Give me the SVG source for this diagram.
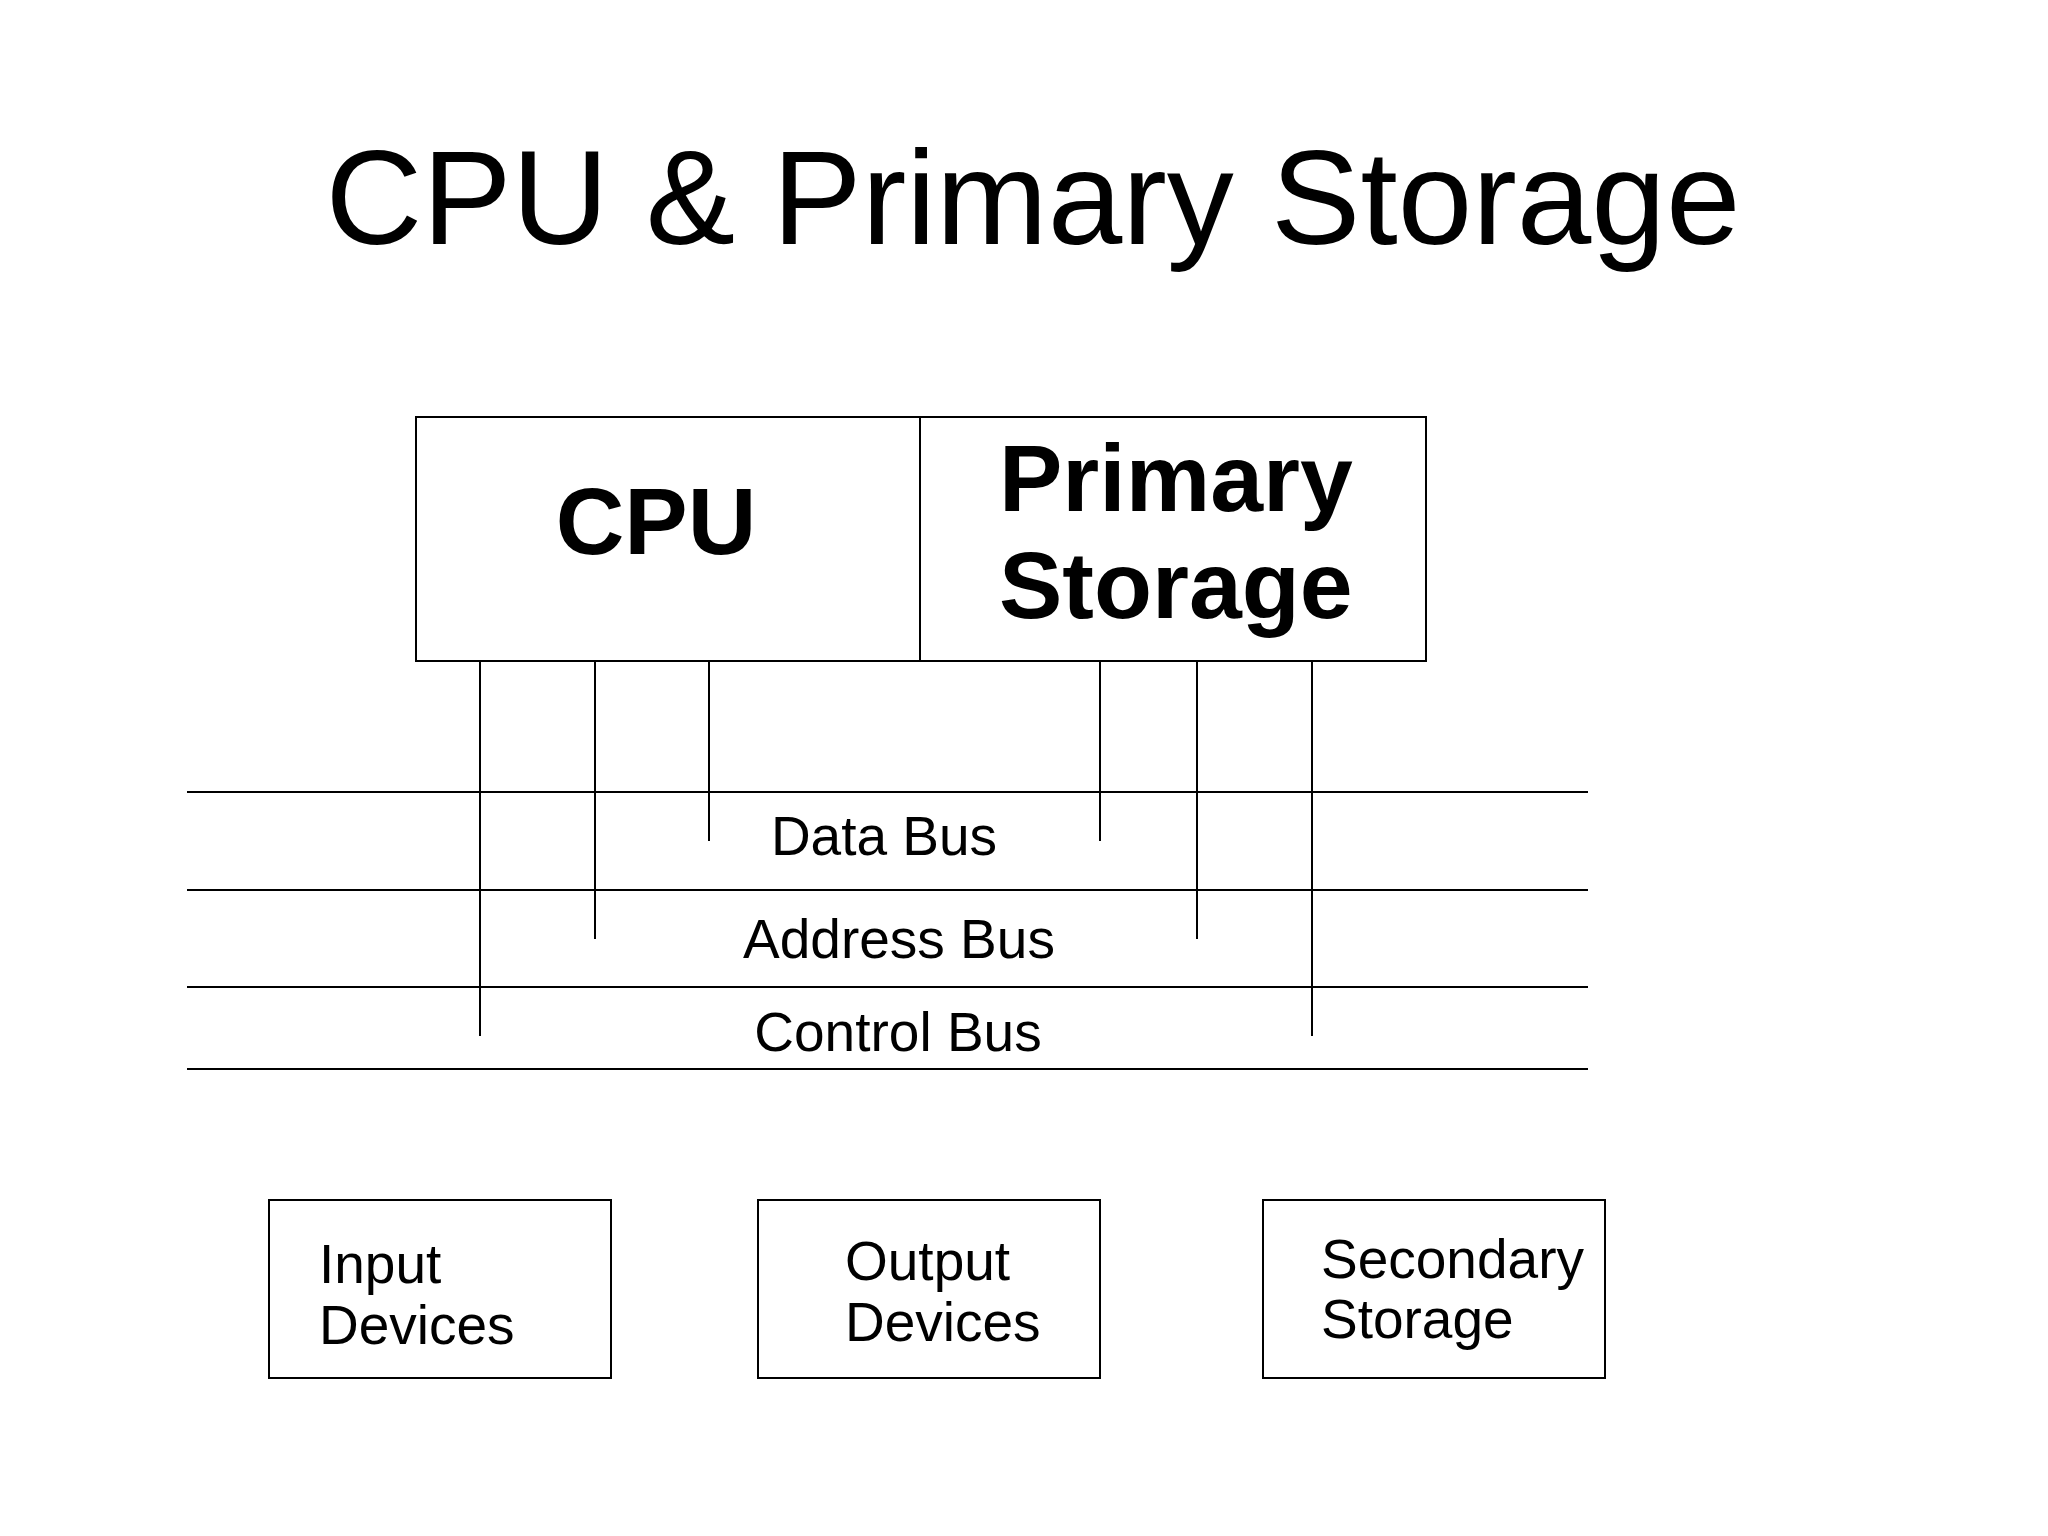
<svg xmlns="http://www.w3.org/2000/svg" width="2048" height="1536" viewBox="0 0 2048 1536">
<style>
text{font-family:"Liberation Sans",Arial,sans-serif;fill:#000}
.box{fill:#fff;stroke:#000;stroke-width:2}
.ln{stroke:#000;stroke-width:2;fill:none}
.b{font-weight:bold;font-size:95px}
.s{font-size:55px}
</style>
<rect width="2048" height="1536" fill="#fff"/>
<text x="1033" y="244" font-size="134" text-anchor="middle">CPU &amp; Primary Storage</text>
<g id="connectors">
<line class="ln" x1="187" y1="792" x2="1588" y2="792"/>
<line class="ln" x1="187" y1="890" x2="1588" y2="890"/>
<line class="ln" x1="187" y1="987" x2="1588" y2="987"/>
<line class="ln" x1="187" y1="1069" x2="1588" y2="1069"/>
<line class="ln" x1="480" y1="661" x2="480" y2="1036"/>
<line class="ln" x1="595" y1="661" x2="595" y2="939"/>
<line class="ln" x1="709" y1="661" x2="709" y2="841"/>
<line class="ln" x1="1100" y1="661" x2="1100" y2="841"/>
<line class="ln" x1="1197" y1="661" x2="1197" y2="939"/>
<line class="ln" x1="1312" y1="661" x2="1312" y2="1036"/>
</g>
<g id="buslabels">
<text class="s" x="884" y="855" text-anchor="middle">Data Bus</text>
<text class="s" x="899" y="958" text-anchor="middle">Address Bus</text>
<text class="s" x="898" y="1051" text-anchor="middle">Control Bus</text>
</g>
<g id="cpu"><rect class="box" x="416" y="417" width="504" height="244"/><text class="b" x="656" y="554" text-anchor="middle">CPU</text></g>
<g id="primary"><rect class="box" x="920" y="417" width="506" height="244"/><text class="b" x="999" y="511">Primary</text><text class="b" x="999" y="618">Storage</text></g>
<g id="input"><rect class="box" x="269" y="1200" width="342" height="178"/><text class="s" x="319" y="1283">Input</text><text class="s" x="319" y="1344">Devices</text></g>
<g id="output"><rect class="box" x="758" y="1200" width="342" height="178"/><text class="s" x="845" y="1280">Output</text><text class="s" x="845" y="1341">Devices</text></g>
<g id="secondary"><rect class="box" x="1263" y="1200" width="342" height="178"/><text class="s" x="1321" y="1278">Secondary</text><text class="s" x="1321" y="1338">Storage</text></g>
</svg>
